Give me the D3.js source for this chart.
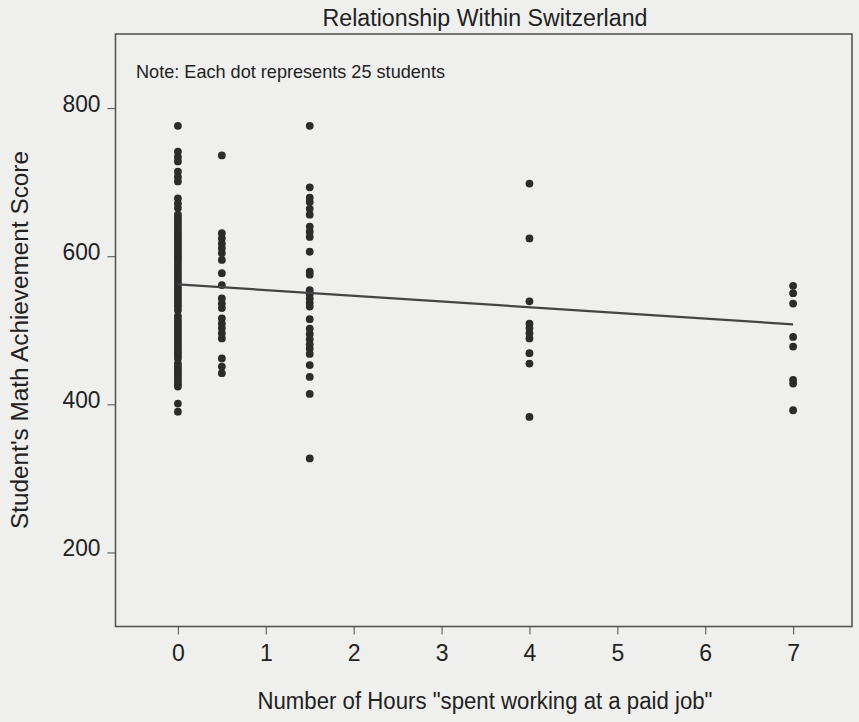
<!DOCTYPE html>
<html>
<head>
<meta charset="utf-8">
<script src="https://cdn.jsdelivr.net/npm/d3@7"></script>
<style>
  html, body { margin: 0; padding: 0; background: #efefee; }
  svg { display: block; }
  text { font-family: "Liberation Sans", Arial, sans-serif; fill: #222; }
</style>
</head>
<body>
<svg id="chart" width="859" height="722"></svg>
<script>
// ---- data ----
const hours = [0, 0.5, 1.5, 4, 7];
const scoresAt0 = [776, 741, 734, 728, 714, 707, 701, 678, 671, 665,
  656, 652, 648, 644, 640, 636, 632, 628, 624, 620, 616, 612, 608, 604, 600,
  596, 592, 588, 584, 580, 576, 572, 568, 564, 560, 556, 552, 548, 544, 540,
  536, 532, 527, 519, 514, 510, 506, 502, 498, 494, 490, 486, 482, 478, 474,
  470, 466, 462, 455, 451, 447, 443, 439, 435, 431, 427, 424, 401, 390];
const scoresAtHalf = [736, 631, 624, 617, 611, 604, 595, 577, 561, 543, 536, 530,
  516, 509, 503, 496, 489, 462, 451, 442];
const scoresAt1_5 = [776, 693, 679, 673, 664, 656, 640, 633, 626, 606, 579, 575,
  554, 549, 543, 537, 532, 515, 502, 495, 488, 481, 475, 468, 453, 437, 414, 327];
const scoresAt4 = [698, 624, 539, 509, 503, 496, 489, 469, 455, 383];
const scoresAt7 = [560, 550, 536, 491, 478, 433, 428, 392];
const fitLine = [[0, 562], [7, 508]];
const xTicks = [0, 1, 2, 3, 4, 5, 6, 7];
const yTicks = [200, 400, 600, 800];
const xDomain = [-0.71, 7.67];
const yDomain = [100, 900];
const titleText = "Relationship Within Switzerland";
const noteText = "Note: Each dot represents 25 students";
const xTitle = 'Number of Hours "spent working at a paid job"';
const yTitle = "Student's Math Achievement Score";

const columns = [scoresAt0, scoresAtHalf, scoresAt1_5, scoresAt4, scoresAt7];
const points = [];
columns.forEach((col, i) => col.forEach(v => points.push({h: hours[i], s: v})));

// ---- layout ----
const box = {left: 115.5, right: 852, top: 34, bottom: 626.5};
const svg = d3.select("#chart");
const x = d3.scaleLinear().domain(xDomain).range([box.left, box.right]);
const y = d3.scaleLinear().domain(yDomain).range([box.bottom, box.top]);

// axes
const xAxis = d3.axisBottom(x).tickValues(xTicks).tickSize(8).tickPadding(10).tickFormat(d3.format("d"));
const gx = svg.append("g").attr("transform", `translate(0,${box.bottom})`).call(xAxis);
gx.select(".domain").remove();
gx.selectAll(".tick line").attr("stroke", "#666").attr("stroke-width", 1.2);
gx.selectAll(".tick text").attr("font-size", 23).attr("fill", "#222")
  .attr("font-family", "Liberation Sans, Arial, sans-serif");

const yAxis = d3.axisLeft(y).tickValues(yTicks).tickSize(8).tickPadding(7);
const gy = svg.append("g").attr("transform", `translate(${box.left},0)`).call(yAxis);
gy.select(".domain").remove();
gy.selectAll(".tick line").attr("stroke", "#666").attr("stroke-width", 1.2);
gy.selectAll(".tick text").attr("font-size", 23).attr("fill", "#222")
  .attr("dy", "0.15em").attr("textLength", 38).attr("lengthAdjust", "spacingAndGlyphs")
  .attr("font-family", "Liberation Sans, Arial, sans-serif");

// plot box
svg.append("rect")
  .attr("x", box.left).attr("y", box.top)
  .attr("width", box.right - box.left).attr("height", box.bottom - box.top)
  .attr("fill", "none").attr("stroke", "#555").attr("stroke-width", 1.6);

// dots
svg.append("g").selectAll("circle").data(points).join("circle")
  .attr("cx", d => x(d.h)).attr("cy", d => y(d.s)).attr("r", 3.9)
  .attr("fill", "#2c2c2c");

// fitted line
svg.append("path")
  .attr("d", d3.line().x(d => x(d[0])).y(d => y(d[1]))(fitLine))
  .attr("fill", "none").attr("stroke", "#444").attr("stroke-width", 2.2);

// texts
svg.append("text").attr("x", 485).attr("y", 26).attr("text-anchor", "middle")
  .attr("font-size", 23).attr("textLength", 325).attr("lengthAdjust", "spacingAndGlyphs")
  .text(titleText);
svg.append("text").attr("x", 136).attr("y", 78)
  .attr("font-size", 18.5).attr("textLength", 309).attr("lengthAdjust", "spacingAndGlyphs")
  .text(noteText);
svg.append("text").attr("x", 485).attr("y", 709).attr("text-anchor", "middle")
  .attr("font-size", 23).attr("textLength", 455).attr("lengthAdjust", "spacingAndGlyphs")
  .text(xTitle);
svg.append("text").attr("transform", "translate(28,340) rotate(-90)").attr("text-anchor", "middle")
  .attr("font-size", 23).attr("textLength", 378).attr("lengthAdjust", "spacingAndGlyphs")
  .text(yTitle);
</script>
</body>
</html>
